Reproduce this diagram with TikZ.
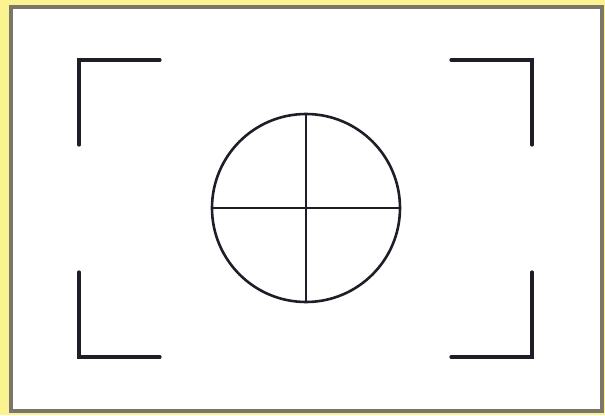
\documentclass[tikz,border=0pt]{standalone}
\usepackage{xcolor}
\usepackage{tikz}

\definecolor{padyellow}{HTML}{FBF38F}
\definecolor{framegray}{HTML}{7A766A}
\definecolor{inkdark}{HTML}{1E1E28}

\begin{document}
\begin{tikzpicture}[x=1pt, y=-1pt,
    bracket/.style={inkdark, line width=3.2pt, line cap=round, line join=miter},
    sight/.style={inkdark, line width=2.6pt}]
  % ---- page and frame ----
  \fill[padyellow] (0,0) rectangle (605,415);
  \useasboundingbox (0,0) rectangle (605,415);
  \fill[white] (11,7) rectangle (602,411);
  \draw[framegray, line width=4.5pt] (11,7) rectangle (602,411);

  % ---- corner brackets ----
  \foreach \cx/\cy/\dx/\dy in {79/60/1/1, 532/60/-1/1, 79/357/1/-1, 532/357/-1/-1} {
    \draw[bracket] (\cx+\dx*81,\cy) -- (\cx,\cy) -- (\cx,\cy+\dy*85);
  }

  % ---- centre circle with cross ----
  \coordinate (c) at (306,208);
  \draw[sight] (c) circle (94);
  \draw[sight] ([xshift=-94pt]c) -- ([xshift=94pt]c);
  \draw[sight] ([yshift=-95pt]c) -- ([yshift=95pt]c);
\end{tikzpicture}
\end{document}
